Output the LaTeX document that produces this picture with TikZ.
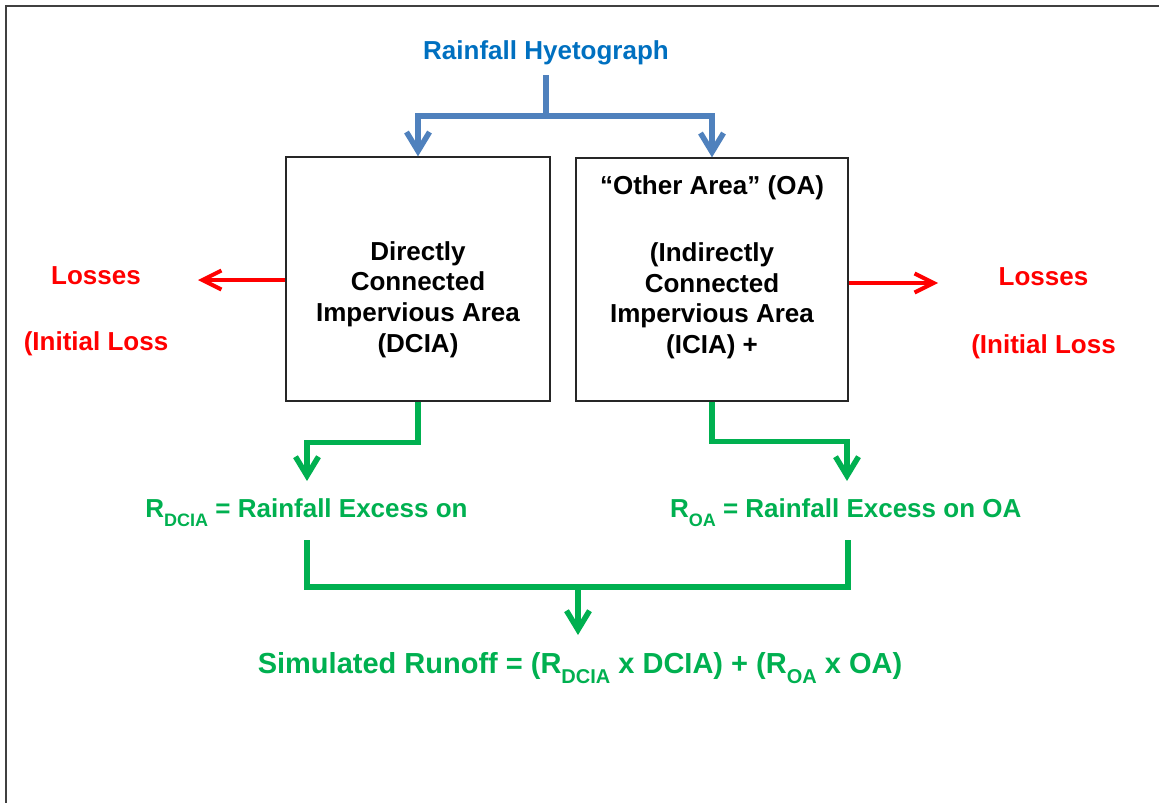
\documentclass[tikz,border=0pt]{standalone}
\usepackage{fontspec}
\setmainfont{Liberation Sans}
\usetikzlibrary{arrows.meta}
\definecolor{hblue}{HTML}{0070C0}
\definecolor{lblue}{HTML}{4F81BD}
\definecolor{grn}{HTML}{00B050}
\definecolor{rred}{HTML}{FF0000}
\newcommand\subt[1]{\raisebox{-9pt}{\fontsize{18}{18}\selectfont #1}}
\newcommand\subtb[1]{\raisebox{-10pt}{\fontsize{20}{20}\selectfont #1}}
\begin{document}
\begin{tikzpicture}[x=1pt,y=-1pt,
  txt/.style={font=\bfseries\fontsize{26}{30.7}\selectfont, inner sep=0pt, outer sep=0pt},
  bigtxt/.style={font=\bfseries\fontsize{29}{34}\selectfont, inner sep=0pt, outer sep=0pt},
  box/.style={draw=black!85, line width=1.3pt, inner sep=0pt},
  barrow/.style={draw=lblue, line width=5.5pt, -{Straight Barb[length=19pt,width=23pt]}},
  garrow/.style={draw=grn, line width=5.5pt, -{Straight Barb[length=19pt,width=23pt]}},
  gline/.style={draw=grn, line width=5.5pt},
  rarrow/.style={draw=rred, line width=4pt, -{Straight Barb[length=19pt,width=19pt]}}]
\useasboundingbox (0,0) rectangle (1159,803);
% outer frame
\draw[line width=2pt, draw=black!75] (6,803) -- (6,5.5) -- (1159,5.5);
% title
\node[txt, text=hblue, anchor=base] (rh) at (546,59) {Rainfall Hyetograph};
% boxes
\node[box, minimum width=264pt, minimum height=244pt] (dcia) at (418,279) {};
\node[box, minimum width=272pt, minimum height=243pt] (oa) at (712,279.5) {};
\node[txt, align=center] (dt) at (418,299.5) {Directly\\Connected\\Impervious Area\\(DCIA)};
\node[txt, align=center] (ot) at (712,267.5) {“Other Area” (OA)\\[36pt](Indirectly\\Connected\\Impervious Area\\(ICIA) +};
% losses
\node[txt, text=rred, anchor=base] (ll1) at (96,284) {Losses};
\node[txt, text=rred, anchor=base] (ll2) at (96,350.5) {(Initial Loss};
\node[txt, text=rred, anchor=base] (rl1) at (1043.5,285.7) {Losses};
\node[txt, text=rred, anchor=base] (rl2) at (1043.5,353) {(Initial Loss};
% rainfall excess
\node[txt, text=grn, anchor=base] (rd) at (306.5,517) {R\subt{DCIA} = Rainfall Excess on};
\node[txt, text=grn, anchor=base] (ro) at (845.7,517) {R\subt{OA} = Rainfall Excess on OA};
\node[bigtxt, text=grn, anchor=base] (sr) at (580,673) {Simulated Runoff = (R\subtb{DCIA} x DCIA) + (R\subtb{OA} x OA)};
% coordinates
\coordinate (lt) at (198,280);
\coordinate (rt) at (938,283);
\coordinate (g1) at (307,481);
\coordinate (g2) at (847,481);
\coordinate (b1) at (307,540);
\coordinate (b2) at (848,540);
\coordinate (m) at (578,587);
\coordinate (g3) at (578,635);
% blue connectors
\draw[barrow] (rh.south) ++(0,10.5) -- ++(0,41) -| (dcia.north);
\draw[barrow] (rh.south) ++(0,10.5) -- ++(0,41) -| (oa.north);
% red connectors
\draw[rarrow] (dcia.west |- lt) -- (lt);
\draw[rarrow] (oa.east |- rt) -- (rt);
% green connectors
\draw[garrow] (dcia.south) -- ++(0,41) -| (g1);
\draw[garrow] (oa.south) -- ++(0,40) -| (g2);
\draw[gline] (b1) -- (b1 |- m) -- (b2 |- m) -- (b2);
\draw[garrow] (m) -- (g3);
\end{tikzpicture}
\end{document}
